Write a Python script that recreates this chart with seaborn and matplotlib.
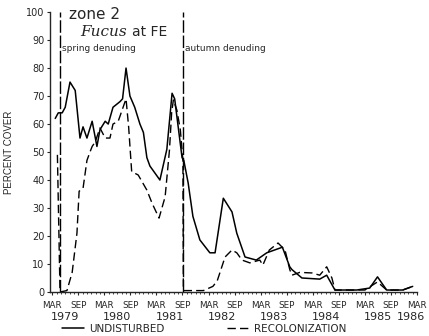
import matplotlib
matplotlib.use("Agg")
import matplotlib.pyplot as plt
import seaborn as sns
import pandas as pd

# Months counted from March 1979 (0) to March 1986 (84)
undisturbed_month = [0.7, 1.4, 2.3, 3.0, 4.1, 5.3, 6.4, 7.1, 8.0, 9.2, 10.3, 11.0, 12.2, 12.9,
                     14.0, 15.6, 16.2, 17.0, 17.9, 19.0, 20.2, 21.0, 21.8, 22.5, 24.8, 26.4,
                     27.6, 28.2, 29.9, 30.3, 31.3, 32.4, 34.0, 36.3, 37.5, 39.4, 41.4, 42.5,
                     44.4, 47.0, 49.4, 53.0, 54.7, 55.2, 57.5, 61.6, 63.2, 65.1, 70.1, 73.1,
                     74.9, 77.0, 80.7, 83.0]
undisturbed_cover = [62, 64, 64, 66, 75, 72, 55, 59, 55, 61, 52, 58, 61, 60,
                     66, 68, 69, 80, 70, 66, 60, 57, 48, 45, 40, 51,
                     71, 69, 48, 47, 39, 27, 18.6, 14, 14, 33.5, 28.6, 21,
                     12.5, 11.4, 14, 16, 9, 8, 5, 4.6, 6, 0.7, 0.7, 1.4,
                     5.4, 0.7, 0.7, 2]

recolonization_month = [1.2, 1.8, 3.4, 4.6, 5.7, 6.2, 7.1, 8.0, 8.7, 9.2, 9.9, 11.0, 12.2,
                        13.3, 14.0, 15.2, 17.0, 17.6, 18.3, 19.8, 21.8, 23.0, 24.6, 26.0,
                        27.0, 27.5, 27.9, 28.7, 29.5, 30.1, 30.2, 34.8, 37.0, 38.0, 39.8,
                        41.4, 42.5, 43.7, 45.5, 47.8, 48.5, 50.0, 52.0, 53.6, 54.7, 55.2,
                        57.0, 59.8, 61.6, 63.2, 64.4, 65.1, 72.0, 74.9, 77.0, 80.7, 83.0]
recolonization_cover = [49, 0, 0.5, 7, 21, 36, 37, 47, 50, 52, 53.6, 58.6, 55,
                        55, 60, 61, 69, 59, 43, 41.8, 36.4, 31.7, 26.4, 34,
                        50.7, 64, 68.6, 65, 58, 47, 0.5, 0.5, 2, 4, 12.5,
                        15, 14, 11.4, 10.4, 11.4, 9.6, 15, 17.5, 15, 8, 6,
                        7, 6.8, 6, 9, 5, 0.7, 0.7, 3.6, 0.7, 0.7, 2]

denuding_month = [1.8, 30.1]
denuding_labels = ["spring denuding", "autumn denuding"]

tick_months = list(range(0, 85, 6))
tick_labels = ["MAR", "SEP"] * 7 + ["MAR"]
years = ["1979", "1980", "1981", "1982", "1983", "1984", "1985", "1986"]
year_pos = [3, 15, 27, 39, 51, 63, 75, 82.5]

sns.set_style("ticks")
plt.rcParams["font.family"] = ["DejaVu Sans"]

fig = plt.figure(figsize=(4.29, 3.36), dpi=100)
ax = fig.add_axes([0.1166, 0.131, 0.8555, 0.833])

und = pd.DataFrame({"month": undisturbed_month, "cover": undisturbed_cover})
rec = pd.DataFrame({"month": recolonization_month, "cover": recolonization_cover})

sns.lineplot(data=und, x="month", y="cover", ax=ax, color="black", lw=1.1,
             sort=False, estimator=None, label="UNDISTURBED")
sns.lineplot(data=rec, x="month", y="cover", ax=ax, color="black", lw=1.0,
             sort=False, estimator=None, label="RECOLONIZATION", dashes=False,
             linestyle=(0, (6, 3)))

for m in denuding_month:
    ax.axvline(m, ymin=0, ymax=1, color="black", lw=1.0, linestyle=(0, (9, 2)))

ax.set_xlim(-0.5, 84)
ax.set_ylim(0, 100)
ax.set_yticks(range(0, 101, 10))
ax.set_yticklabels([str(v) for v in range(0, 101, 10)], fontsize=7)
ax.set_xticks(tick_months)
ax.set_xticklabels(tick_labels, fontsize=6.3)
ax.set_xticks(range(0, 85, 1), minor=True)
ax.tick_params(axis="x", which="major", length=2.5, width=0.8, pad=4)
ax.tick_params(axis="x", which="minor", length=1.5, width=0.6)
ax.tick_params(axis="y", length=2, width=0.8, pad=2)
ax.set_xlabel("")
ax.set_ylabel("PERCENT COVER", fontsize=7, family="Liberation Sans", labelpad=9)
sns.despine(ax=ax)
for s in ("left", "bottom"):
    ax.spines[s].set_linewidth(1.0)

# Year labels beneath the month ticks
for y, p in zip(years, year_pos):
    ax.text(p, -0.088, y, transform=ax.get_xaxis_transform(), ha="center",
            va="center", fontsize=8)

# Panel annotations
ax.text(3.8, 99, "zone 2", fontsize=11, va="center", ha="left")
ax.text(6.5, 93, "Fucus", fontsize=11, style="italic", family="DejaVu Serif",
        va="center", ha="left")
ax.text(18.3, 93, "at FE", fontsize=10, va="center", ha="left")
for m, lbl in zip(denuding_month, denuding_labels):
    ax.text(m + 0.4, 87, lbl, fontsize=6.5, va="center", ha="left")

ax.get_legend().remove()
handles, labels = ax.get_legend_handles_labels()
fig.legend(handles, labels, loc="center", bbox_to_anchor=(0.475, 0.022), ncol=2,
           frameon=False, fontsize=7.5, handlelength=2.2, columnspacing=6.0,
           handletextpad=0.4, borderpad=0)

fig.savefig("out.png", dpi=100, facecolor="white")
